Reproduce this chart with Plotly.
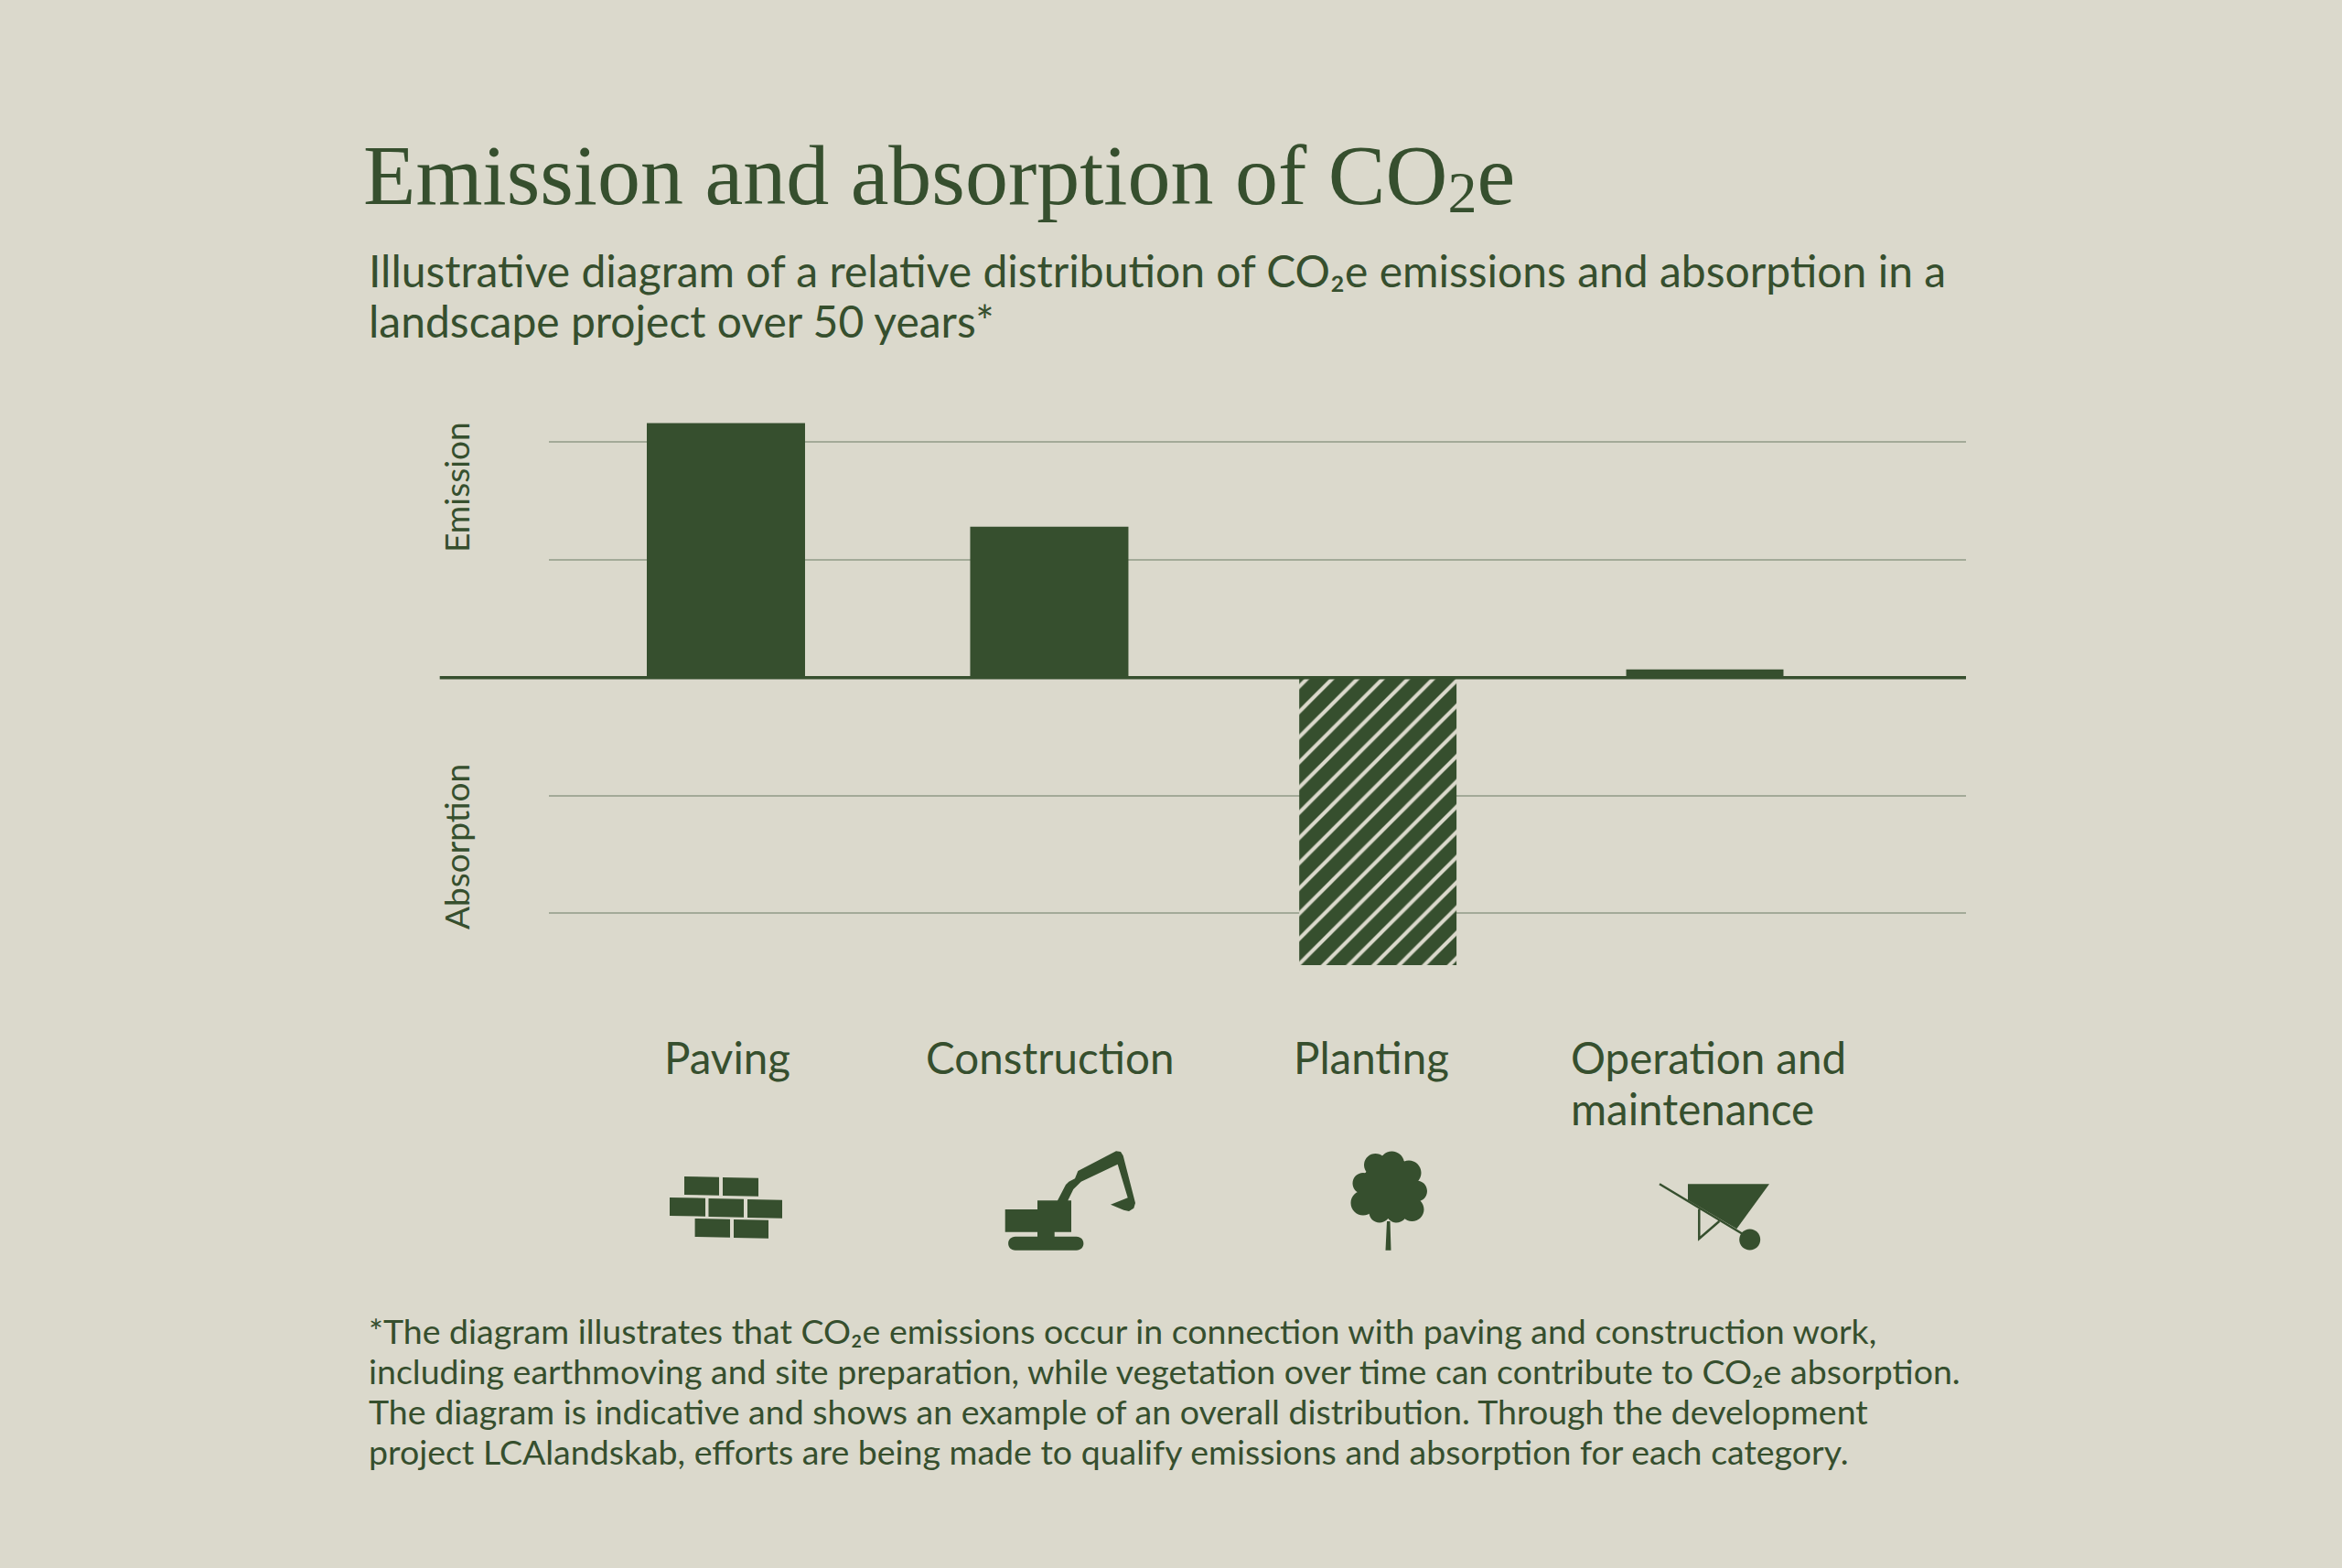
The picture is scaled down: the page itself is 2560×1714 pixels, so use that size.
#!/usr/bin/env python
# coding: utf-8

import re
import plotly.graph_objects as go

W, H = 2560, 1714
BG = "#dbd9cc"
DARK = "#364f2e"
GRID = "#a3aa98"

# plot area in page pixels
L, R, T, B = 600, 2149, 440, 1080

categories = ["Paving", "Construction", "Planting", "Operation and maintenance"]
values = [2.16, 1.28, -2.44, 0.07]
gridticks = [-2, -1, 0, 1, 2]
patterns = ["", "", "/", ""]
label_lines = [["Paving"], ["Construction"], ["Planting"], ["Operation and", "maintenance"]]

title_text = "Emission and absorption of CO<span style='font-size:64px;baseline-shift:-9px'>2</span>e"
subtitle_lines = [
    "Illustrative diagram of a relative distribution of CO₂e emissions and absorption in a",
    "landscape project over 50 years*",
]
note_lines = [
    "*The diagram illustrates that CO₂e emissions occur in connection with paving and construction work,",
    "including earthmoving and site preparation, while vegetation over time can contribute to CO₂e absorption.",
    "The diagram is indicative and shows an example of an overall distribution. Through the development",
    "project LCAlandskab, efforts are being made to qualify emissions and absorption for each category.",
]


def px(x):
    return (x - L) / (R - L)


def py(y):
    return (B - y) / (B - T)


def page_path(path):
    # path written in page pixels -> paper coordinates
    out = []
    is_x = [True]

    def conv(m):
        v = float(m.group())
        r = px(v) if is_x[0] else py(v)
        is_x[0] = not is_x[0]
        return f"{r:.5f}"

    for part in re.findall(r"[MLCQZ][^MLCQZ]*", path):
        is_x[0] = True
        out.append(part[0] + re.sub(r"-?\d+\.?\d*", conv, part[1:]))
    return " ".join(out)


def circle(cx, cy, r):
    k = 0.5523 * r
    return (f"M{cx-r},{cy} C{cx-r},{cy-k} {cx-k},{cy-r} {cx},{cy-r} "
            f"C{cx+k},{cy-r} {cx+r},{cy-k} {cx+r},{cy} "
            f"C{cx+r},{cy+k} {cx+k},{cy+r} {cx},{cy+r} "
            f"C{cx-k},{cy+r} {cx-r},{cy+k} {cx-r},{cy} Z")


def text(x, y, s, size, font="Lato", anchor="left", angle=0):
    return dict(x=px(x), y=py(y), xref="paper", yref="paper", text=s, showarrow=False,
                xanchor=anchor, yanchor="middle", textangle=angle, align="left",
                font=dict(family=font, size=size, color=DARK))


# icons, page pixels
bricks = ""
for x0, x1, y0 in [(748, 786, 1286), (790, 829, 1287),
                   (732, 771, 1309), (774.5, 813, 1310), (817, 855, 1311),
                   (759.6, 798, 1332), (802, 840, 1333)]:
    bricks += f"M{x0},{y0} L{x1},{y0+0.7} L{x1},{y0+20.7} L{x0},{y0+20} Z "

digger = ("M1098.7,1322 L1134,1322 L1134,1312.3 L1156,1312.3 L1165,1295 L1168.3,1291.7 L1175,1288.3 "
          "L1178.3,1280 L1220,1258.3 L1225,1259 L1227.7,1263.3 L1241,1315 L1239.3,1320.7 L1234,1324 "
          "L1228.3,1322.7 L1214,1316.7 L1232.7,1309.3 L1221.7,1272.7 L1181.7,1291.7 L1173.3,1300 "
          "L1167.3,1312.3 L1171,1312.3 L1171,1346.7 L1152.7,1346.7 L1152.7,1351.7 L1176.5,1351.7 "
          "C1187,1351.7 1187,1366.7 1176.5,1366.7 L1110,1366.7 C1099.5,1366.7 1099.5,1351.7 1110,1351.7 "
          "L1134,1351.7 L1134,1346.7 L1098.7,1346.7 Z")

tree = "M1514.5,1366.7 L1520.5,1366.7 L1519.5,1335 L1516,1335 Z "
for cx, cy, r in [(1503.5, 1273.5, 12.5), (1521.5, 1272, 13.5), (1540, 1282, 13.5), (1548.5, 1302, 11.5),
                  (1543.5, 1322, 13), (1526.5, 1325, 11.5), (1508, 1325, 11.5), (1490, 1315, 13.5),
                  (1490, 1293.5, 11.5), (1516.5, 1300, 30)]:
    tree += circle(cx, cy, r) + " "

barrow_tray = "M1845,1294.3 L1934,1294.3 L1898.3,1343.3 L1845,1311.7 Z"
barrow_wheel = circle(1912.7, 1355, 11.5)
barrow_lines = "M1814,1294.3 L1906.7,1350 M1857.3,1321.7 L1857.3,1354 L1879.3,1335"

fig = go.Figure(go.Bar(
    x=categories,
    y=values,
    width=[0.485, 0.485, 0.482, 0.482],
    offset=[-0.2425, -0.2515, -0.243, -0.241],
    marker=dict(color=DARK, line_width=0,
                pattern=dict(shape=patterns, fgcolor=BG, bgcolor=DARK, size=19.5, solidity=0.21, fillmode="replace")),
))

shapes = [
    # base line runs further left than the grid
    dict(type="line", xref="paper", yref="y", x0=px(480.7), x1=1, y0=0, y1=0, line=dict(color=DARK, width=3.5), layer="above"),
]
for p in [bricks, digger, tree, barrow_tray, barrow_wheel]:
    shapes.append(dict(type="path", xref="paper", yref="paper", path=page_path(p), fillcolor=DARK,
                       fillrule="nonzero", line_width=0))
shapes.append(dict(type="path", xref="paper", yref="paper", path=page_path(barrow_lines),
                   line=dict(color=DARK, width=2.5)))

annotations = [text(395, 193, title_text, 94, font="Liberation Serif")]
for i, s in enumerate(subtitle_lines):
    annotations.append(text(401, 295 + 56 * i, s, 48))
annotations.append(text(498, 533, "Emission", 37, anchor="center", angle=-90))
annotations.append(text(498, 926, "Absorption", 37, anchor="center", angle=-90))
for lines, x, anchor in zip(label_lines, [795, 1147, 1499, 1715], ["center", "center", "center", "left"]):
    for j, s in enumerate(lines):
        annotations.append(text(x, 1155 + 56 * j, s, 47.5, anchor=anchor))
for i, s in enumerate(note_lines):
    annotations.append(text(401, 1454 + 44 * i, s, 37.5))

fig.update_layout(
    width=W, height=H,
    paper_bgcolor=BG, plot_bgcolor=BG,
    showlegend=False,
    margin=dict(l=L, r=W - R, t=T, b=H - B, pad=0),
    xaxis=dict(range=[-0.5425, 3.8004], showgrid=False, zeroline=False, showticklabels=False, ticks="", showline=False),
    yaxis=dict(range=[(740.7 - B) / 128.8, (740.7 - T) / 128.8], tickvals=gridticks, gridcolor=GRID, gridwidth=1.5,
               zeroline=False, showticklabels=False, ticks="", showline=False),
    shapes=shapes,
    annotations=annotations,
)

fig.write_html("out.html", config=dict(displayModeBar=False),
               post_script="document.body.style.margin='0';document.body.style.overflow='hidden';")
